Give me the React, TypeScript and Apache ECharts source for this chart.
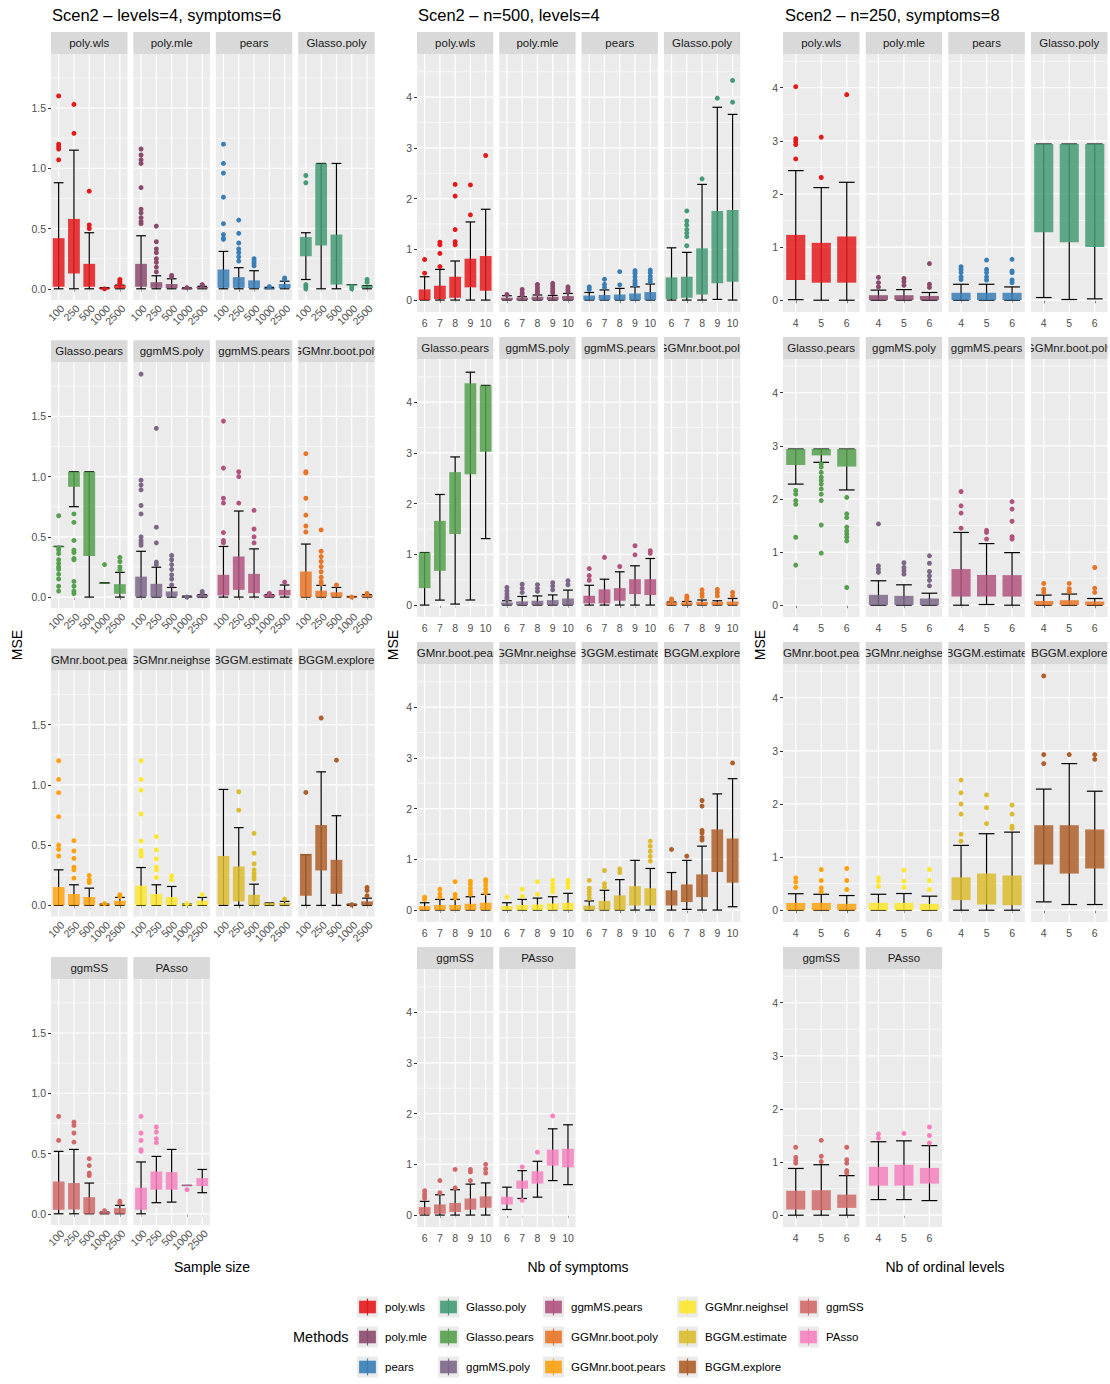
import { useEffect, useRef } from "react";
import * as echarts from "echarts";

const FONT = '"Liberation Sans", Arial, Helvetica, sans-serif';

const methods = [
  "poly.wls", "poly.mle", "pears", "Glasso.poly", "Glasso.pears", "ggmMS.poly", "ggmMS.pears",
  "GGMnr.boot.poly", "GGMnr.boot.pears", "GGMnr.neighsel", "BGGM.estimate", "BGGM.explore", "ggmSS", "PAsso",
];
const methodColors = [
  "#E41A1C", "#8B4A6D", "#3A7EB6", "#449B75", "#56A04F", "#7D6788", "#B1537F",
  "#E97527", "#FEA30F", "#FDE82F", "#DCBC2F", "#AE5F2A", "#D06A6A", "#F682BF",
];

const sizeCats = ["100", "250", "500", "1000", "2500"];
const symptomCats = ["6", "7", "8", "9", "10"];
const levelCats = ["4", "5", "6"];

const sizeYTicks = [0, 0.5, 1, 1.5];
const sizeYMinor = [0.25, 0.75, 1.25, 1.75];
const countYTicks = [0, 1, 2, 3, 4];
const countYMinor = [0.5, 1.5, 2.5, 3.5, 4.5];

// [lower whisker, Q1, Q3, upper whisker] per category, per method
const sizeBoxes = [
  [[0, 0.017, 0.42, 0.88], [0, 0.127, 0.58, 1.15], [0, 0.017, 0.207, 0.465], [0, 0, 0.008, 0.01], [0, 0.003, 0.03, 0.03]],
  [[0, 0.017, 0.207, 0.44], [0, 0.008, 0.055, 0.108], [0, 0.005, 0.04, 0.083], [0, 0, 0.005, 0.008], [0, 0.002, 0.015, 0.02]],
  [[0, 0.008, 0.16, 0.31], [0, 0.008, 0.097, 0.175], [0, 0.005, 0.07, 0.15], [0, 0, 0.008, 0.012], [0, 0.005, 0.04, 0.063]],
  [[0.077, 0.27, 0.43, 0.465], [0, 0.36, 1.04, 1.04], [0, 0.035, 0.45, 1.04], [0.035, 0.033, 0.037, 0.035], [0, 0.005, 0.027, 0.027]],
  [[0.42, 0.418, 0.422, 0.42], [0.75, 0.915, 1.04, 1.04], [0, 0.34, 1.04, 1.04], [0.117, 0.115, 0.119, 0.117], [0, 0.027, 0.107, 0.205]],
  [[0, 0.005, 0.17, 0.38], [0, 0, 0.11, 0.248], [0, 0.005, 0.047, 0.08], [0, 0, 0.005, 0.008], [0, 0, 0.02, 0.02]],
  [[0, 0.014, 0.185, 0.42], [0, 0.06, 0.337, 0.714], [0, 0.033, 0.193, 0.4], [0, 0, 0.02, 0.02], [0, 0.014, 0.06, 0.1]],
  [[0, 0, 0.212, 0.44], [0, 0, 0.053, 0.097], [0, 0, 0.04, 0.08], [0, 0, 0.005, 0.005], [0, 0, 0.015, 0.02]],
  [[0, 0, 0.152, 0.295], [0, 0, 0.094, 0.171], [0, 0, 0.069, 0.143], [0, 0, 0.01, 0.01], [0, 0, 0.039, 0.066]],
  [[0, 0, 0.163, 0.314], [0, 0, 0.094, 0.171], [0, 0, 0.069, 0.157], [0, 0, 0.01, 0.01], [0, 0, 0.039, 0.066]],
  [[0, 0.005, 0.41, 0.962], [0, 0.033, 0.323, 0.645], [0, 0, 0.088, 0.176], [0, 0, 0.02, 0.02], [0, 0, 0.02, 0.033]],
  [[0, 0.08, 0.427, 0.42], [0, 0.29, 0.667, 1.108], [0, 0.096, 0.378, 0.744], [0, 0, 0.01, 0.01], [0, 0, 0.033, 0.06]],
  [[0, 0.033, 0.268, 0.518], [0, 0.036, 0.255, 0.534], [0, 0, 0.138, 0.255], [0, 0, 0.014, 0.014], [0, 0, 0.047, 0.07]],
  [[0, 0.033, 0.216, 0.43], [0.092, 0.2, 0.351, 0.476], [0.097, 0.2, 0.346, 0.534], [0.235, 0.232, 0.24, 0.235], [0.175, 0.23, 0.296, 0.368]],
];
const sizeOutliers = [
  [[1.6, 1.2, 1.18, 1.16, 1.07], [1.53, 1.29], [0.81, 0.53, 0.5], [0.0], [0.077, 0.06, 0.045]],
  [[1.16, 1.11, 1.07, 1.04, 0.84, 0.66, 0.63, 0.59, 0.56, 0.54], [0.52, 0.39, 0.33, 0.3, 0.25, 0.22, 0.18, 0.14], [0.11, 0.1], [0.01], [0.03, 0.035]],
  [[1.2, 1.04, 0.96, 0.76, 0.54, 0.45, 0.42, 0.41], [0.57, 0.46, 0.38, 0.33, 0.3, 0.265, 0.23], [0.25, 0.23, 0.21, 0.19], [0.018], [0.09, 0.078]],
  [[0.94, 0.88, 0.035, 0.017, 0.0], [], [], [0.016, 0.0], [0.077, 0.055]],
  [[0.675, 0.41, 0.39, 0.36, 0.31, 0.28, 0.25, 0.23, 0.19, 0.15, 0.09, 0.05], [0.69, 0.62, 0.47, 0.39, 0.37, 0.32, 0.31, 0.13, 0.09, 0.05, 0.03], [], [0.27], [0.33, 0.295, 0.25, 0.225]],
  [[1.85, 0.97, 0.93, 0.89, 0.76, 0.69, 0.5, 0.47, 0.45, 0.43], [1.4, 0.58, 0.45, 0.29, 0.27], [0.345, 0.31, 0.27, 0.23, 0.185, 0.15, 0.1], [0.0], [0.047, 0.033]],
  [[1.46, 1.07, 0.82, 0.78, 0.535, 0.47, 0.45], [1.04, 1.0, 0.78], [0.72, 0.565, 0.5, 0.45], [0.03], [0.124]],
  [[1.19, 1.04, 1.03, 0.82, 0.68, 0.59, 0.54], [0.557, 0.38, 0.336, 0.295, 0.253, 0.21, 0.165, 0.13, 0.11], [0.1], [0.0], [0.03]],
  [[1.2, 1.045, 0.935, 0.736, 0.5, 0.466, 0.41], [0.537, 0.452, 0.39, 0.317, 0.295, 0.226], [0.248, 0.212, 0.19], [0.015], [0.088, 0.074]],
  [[1.2, 1.045, 0.957, 0.758, 0.535, 0.455, 0.433, 0.41], [0.57, 0.46, 0.386, 0.317, 0.295, 0.232], [0.245, 0.212], [0.015], [0.088]],
  [[], [0.943, 0.79], [0.598, 0.433, 0.345, 0.295, 0.267, 0.24, 0.218], [], [0.052]],
  [[0.937], [1.555], [1.205], [0.005], [0.149, 0.124, 0.08]],
  [[0.808, 0.609], [0.761, 0.733, 0.67, 0.595], [0.457, 0.4, 0.338, 0.318], [0.025], [0.105, 0.088]],
  [[0.808, 0.67, 0.609, 0.531, 0.518], [0.72, 0.678, 0.623, 0.59], [], [0.2], []],
];

const symptomBoxes = [
  [[0, 0, 0.21, 0.46], [0, 0.02, 0.283, 0.605], [0, 0.046, 0.46, 0.77], [0, 0.25, 0.816, 1.54], [0, 0.184, 0.868, 1.79]],
  [[0, 0, 0.046, 0.086], [0, 0, 0.046, 0.066], [0, 0, 0.066, 0.1], [0, 0, 0.066, 0.092], [0, 0, 0.079, 0.13]],
  [[0, 0, 0.09, 0.15], [0, 0, 0.1, 0.2], [0, 0, 0.11, 0.23], [0, 0, 0.13, 0.26], [0, 0, 0.158, 0.316]],
  [[0, 0.02, 0.447, 1.03], [0, 0.046, 0.46, 0.94], [0, 0.11, 1.02, 2.28], [0.013, 0.33, 1.757, 3.8], [0, 0.36, 1.776, 3.66]],
  [[0, 0.334, 1.036, 1.036], [0.098, 0.675, 1.66, 2.18], [0.02, 1.4, 2.62, 2.92], [0.1, 2.58, 4.37, 4.59], [1.31, 3.02, 4.33, 4.33]],
  [[0, 0, 0.052, 0.085], [0, 0, 0.072, 0.17], [0, 0, 0.085, 0.18], [0, 0, 0.098, 0.2], [0, 0, 0.13, 0.295]],
  [[0, 0.033, 0.184, 0.39], [0, 0.033, 0.31, 0.51], [0, 0.085, 0.334, 0.656], [0, 0.216, 0.51, 0.774], [0, 0.197, 0.51, 0.918]],
  [[0, 0, 0.052, 0.06], [0, 0, 0.05, 0.07], [0, 0, 0.065, 0.1], [0, 0, 0.065, 0.085], [0, 0, 0.072, 0.13]],
  [[0, 0, 0.079, 0.145], [0, 0, 0.1, 0.21], [0, 0, 0.1, 0.21], [0, 0, 0.125, 0.263], [0, 0, 0.145, 0.31]],
  [[0, 0, 0.079, 0.145], [0, 0, 0.1, 0.21], [0, 0, 0.11, 0.236], [0, 0, 0.13, 0.263], [0, 0, 0.145, 0.33]],
  [[0, 0, 0.09, 0.18], [0, 0, 0.18, 0.39], [0, 0, 0.29, 0.6], [0, 0.09, 0.47, 0.98], [0, 0.09, 0.43, 0.82]],
  [[0, 0.09, 0.39, 0.74], [0.013, 0.158, 0.506, 0.98], [0, 0.256, 0.703, 1.26], [0, 0.75, 1.59, 2.29], [0.066, 0.54, 1.41, 2.59]],
  [[0, 0.013, 0.157, 0.27], [0, 0.026, 0.21, 0.4], [0, 0.06, 0.24, 0.5], [0, 0.105, 0.327, 0.61], [0, 0.144, 0.37, 0.634]],
  [[0.11, 0.21, 0.36, 0.55], [0.327, 0.52, 0.68, 0.876], [0.353, 0.62, 0.863, 1.06], [0.68, 0.974, 1.29, 1.7], [0.6, 0.94, 1.307, 1.78]],
];
const symptomOutliers = [
  [[0.8, 0.53], [1.14, 1.09, 0.92, 0.66], [2.28, 2.05, 1.39, 1.15, 1.09], [2.27, 1.68], [2.85]],
  [[0.11], [0.21, 0.145, 0.1], [0.31, 0.26, 0.21, 0.165, 0.13], [0.33, 0.28, 0.23, 0.18, 0.145], [0.26, 0.21, 0.165]],
  [[0.26, 0.21], [0.41, 0.31, 0.25], [0.56, 0.3], [0.58, 0.53, 0.46, 0.39, 0.34, 0.3], [0.59, 0.54, 0.47, 0.41, 0.36]],
  [[], [1.757, 1.56, 1.48, 1.39, 1.32, 1.25, 1.07], [2.39], [3.98], [4.33, 3.9]],
  [[], [], [], [], []],
  [[0.35, 0.28, 0.22, 0.16, 0.12], [0.41, 0.33, 0.25], [0.4, 0.33, 0.27], [0.44, 0.375, 0.3], [0.48, 0.4]],
  [[0.72, 0.58, 0.49], [0.94], [0.76], [1.17, 0.99], [1.07, 1.02]],
  [[0.12, 0.085], [0.18, 0.14, 0.1], [0.3, 0.23, 0.17], [0.31, 0.25, 0.18], [0.25, 0.18]],
  [[0.256, 0.21], [0.41, 0.32, 0.256], [0.56, 0.31, 0.243], [0.57, 0.51, 0.43, 0.36, 0.31], [0.6, 0.56, 0.49, 0.41, 0.34]],
  [[0.256], [0.41, 0.276], [0.56, 0.31], [0.585, 0.5, 0.43, 0.36], [0.585, 0.52, 0.45]],
  [[0.585, 0.43, 0.36, 0.3, 0.23], [0.78, 0.52, 0.45], [0.81, 0.74], [], [1.36, 1.26, 1.16, 1.06, 0.965]],
  [[1.195], [1.065], [2.16, 2.05, 1.57, 1.52, 1.43, 1.38], [], [2.9]],
  [[0.48, 0.42, 0.37, 0.33], [0.68, 0.44], [0.9, 0.536], [0.9, 0.85, 0.68], [1.0, 0.91, 0.83]],
  [[], [0.95, 0.29], [1.24], [1.955], []],
];

const levelBoxes = [
  [[0.01, 0.38, 1.23, 2.44], [0, 0.33, 1.08, 2.12], [0, 0.33, 1.2, 2.22]],
  [[0, 0, 0.094, 0.19], [0, 0, 0.094, 0.2], [0, 0, 0.08, 0.145]],
  [[0, 0, 0.14, 0.3], [0, 0, 0.14, 0.3], [0, 0, 0.14, 0.25]],
  [[0.05, 1.28, 2.94, 2.94], [0.013, 1.09, 2.94, 2.94], [0.025, 1.0, 2.94, 2.94]],
  [[2.28, 2.64, 2.94, 2.94], [2.69, 2.82, 2.94, 2.94], [2.17, 2.61, 2.94, 2.94]],
  [[0, 0, 0.195, 0.46], [0, 0, 0.176, 0.384], [0, 0, 0.126, 0.226]],
  [[0, 0.163, 0.68, 1.37], [0.013, 0.163, 0.57, 1.16], [0, 0.163, 0.566, 0.99]],
  [[0, 0, 0.08, 0.19], [0, 0, 0.094, 0.21], [0, 0, 0.07, 0.126]],
  [[0, 0, 0.138, 0.31], [0, 0, 0.138, 0.3], [0, 0, 0.12, 0.276]],
  [[0, 0, 0.138, 0.3], [0, 0, 0.138, 0.314], [0, 0, 0.12, 0.264]],
  [[0, 0.19, 0.62, 1.22], [0, 0.107, 0.69, 1.44], [0, 0.094, 0.653, 1.47]],
  [[0.157, 0.86, 1.6, 2.28], [0.107, 0.69, 1.6, 2.76], [0.107, 0.785, 1.52, 2.24]],
  [[0, 0.106, 0.46, 0.88], [0, 0.094, 0.47, 0.95], [0, 0.138, 0.388, 0.745]],
  [[0.294, 0.557, 0.91, 1.383], [0.294, 0.557, 0.95, 1.4], [0.275, 0.595, 0.89, 1.31]],
];
const levelOutliers = [
  [[4.02, 3.04, 2.99, 2.93, 2.66], [3.07, 2.31], [3.87]],
  [[0.43, 0.33, 0.25], [0.41, 0.35, 0.28], [0.69, 0.3, 0.24]],
  [[0.63, 0.58, 0.52, 0.44, 0.39], [0.756, 0.58, 0.52, 0.44, 0.38], [0.77, 0.55, 0.52, 0.38, 0.33]],
  [[], [], []],
  [[2.16, 2.09, 1.97, 1.9, 1.28, 0.755], [2.66, 2.6, 2.5, 2.41, 2.35, 2.28, 2.19, 2.09, 1.97, 1.51, 0.98], [2.03, 1.72, 1.65, 1.47, 1.4, 1.34, 1.28, 1.21, 0.333]],
  [[1.53, 0.74, 0.68, 0.62], [0.8, 0.71, 0.65, 0.585], [0.93, 0.79, 0.635, 0.553, 0.47, 0.365]],
  [[2.14, 1.87, 1.735, 1.45], [1.41, 1.37, 1.245], [1.95, 1.81, 1.58, 1.29, 1.245]],
  [[0.41, 0.3, 0.24], [0.41, 0.31, 0.25], [0.71, 0.32, 0.24]],
  [[0.61, 0.534, 0.43], [0.766, 0.56, 0.42, 0.35], [0.785, 0.56, 0.39]],
  [[0.61, 0.546, 0.45], [0.753, 0.546, 0.43], [0.766, 0.56, 0.39]],
  [[2.45, 2.21, 2.0, 1.81, 1.43, 1.3], [2.17, 1.93, 1.63], [1.98, 1.81, 1.58, 1.54]],
  [[4.41, 2.93, 2.76], [2.93], [2.93, 2.84]],
  [[1.28, 1.09, 1.03, 0.98], [1.41, 1.11, 1.01], [1.28, 1.045, 0.98, 0.84, 0.795]],
  [[1.53, 1.45], [1.54], [1.66, 1.5, 1.36]],
];

// layout (pixel geometry of each of the three arranged plots)
const panels = [
  {
    title: "Scen2 \u2013 levels=4, symptoms=6", xTitle: "Sample size",
    cats: sizeCats, boxes: sizeBoxes, outs: sizeOutliers,
    yMin: -0.093, yMax: 1.948, yTicks: sizeYTicks, yMinor: sizeYMinor, decimals: 1,
    lefts: [51, 133.4, 215.8, 298.2], width: 76.5, tops: [54, 362.3, 670.6, 979], height: 246,
    rotate: 45, titleX: 52, xTitleX: 212, mseX: 17,
  },
  {
    title: "Scen2 \u2013 n=500, levels=4", xTitle: "Nb of symptoms",
    cats: symptomCats, boxes: symptomBoxes, outs: symptomOutliers,
    yMin: -0.235, yMax: 4.85, yTicks: countYTicks, yMinor: countYMinor, decimals: 0,
    lefts: [417, 499.3, 581.6, 663.9], width: 76.3, tops: [54, 359, 664, 969], height: 258,
    rotate: 0, titleX: 418, xTitleX: 578, mseX: 393,
  },
  {
    title: "Scen2 \u2013 n=250, symptoms=8", xTitle: "Nb of ordinal levels",
    cats: levelCats, boxes: levelBoxes, outs: levelOutliers,
    yMin: -0.222, yMax: 4.635, yTicks: countYTicks, yMinor: countYMinor, decimals: 0,
    lefts: [783, 865.7, 948.3, 1031], width: 76.5, tops: [54, 359, 664, 969], height: 258,
    rotate: 0, titleX: 785, xTitleX: 945, mseX: 760,
  },
];

const STRIP_H = 22;
const legendCols = [357, 438, 543, 677, 798];
const legendRows = [1307, 1337, 1367];

function buildOption() {
  const grid: any[] = [];
  const xAxis: any[] = [];
  const yAxis: any[] = [];
  const series: any[] = [];
  const graphic: any[] = [];

  panels.forEach((p) => {
    const n = p.cats.length;
    graphic.push({
      type: "text", left: p.titleX, top: 6,
      style: { text: p.title, fontSize: 16.5, fill: "#000", fontFamily: FONT },
    });
    graphic.push({
      type: "text", x: p.xTitleX, y: 1267,
      style: { text: p.xTitle, fontSize: 14, fill: "#000", fontFamily: FONT, align: "center", verticalAlign: "middle" },
    });
    graphic.push({
      type: "text", x: p.mseX, y: 645, rotation: Math.PI / 2,
      style: { text: "MSE", fontSize: 14, fill: "#000", fontFamily: FONT, align: "center", verticalAlign: "middle" },
    });

    methods.forEach((m, mi) => {
      const row = Math.floor(mi / 4);
      const col = mi % 4;
      const left = p.lefts[col];
      const top = p.tops[row];
      const g = grid.length;
      const color = methodColors[mi];
      grid.push({
        left, top, width: p.width, height: p.height, show: true,
        backgroundColor: "#EBEBEB", borderWidth: 0, containLabel: false,
      });
      xAxis.push({
        type: "category", gridIndex: g, data: p.cats, boundaryGap: true,
        axisLine: { show: false },
        axisTick: { show: true, alignWithLabel: true, length: 3, lineStyle: { color: "#333333", width: 1 } },
        axisLabel: p.rotate
          ? {
              interval: 0, rotate: p.rotate, margin: 3, color: "#4D4D4D", fontSize: 10.5, fontFamily: FONT,
              align: "right", verticalAlign: "top",
            }
          : { interval: 0, margin: 5, color: "#4D4D4D", fontSize: 10.5, fontFamily: FONT },
        splitLine: { show: false },
      });
      yAxis.push({
        type: "value", gridIndex: g, min: p.yMin, max: p.yMax,
        axisLine: { show: false },
        axisTick: { show: col === 0, length: 3, lineStyle: { color: "#333333", width: 1 }, customValues: p.yTicks },
        axisLabel: {
          show: col === 0, customValues: p.yTicks, margin: 5, color: "#4D4D4D", fontSize: 10.5, fontFamily: FONT,
          formatter: (v: number) => v.toFixed(p.decimals),
        },
        splitLine: { show: false },
        minorSplitLine: { show: false },
      });

      // facet strip (label clipped to the strip, like ggplot)
      series.push({
        type: "custom", xAxisIndex: g, yAxisIndex: g, silent: true, z: 1,
        data: [[0, 0]],
        renderItem: (params: any) => {
          const cs = params.coordSys;
          const sy = cs.y - STRIP_H;
          return {
            type: "group",
            children: [
              { type: "rect", shape: { x: cs.x, y: sy, width: cs.width, height: STRIP_H }, style: { fill: "#D9D9D9" } },
              {
                type: "text",
                style: {
                  x: cs.x + cs.width / 2, y: sy + STRIP_H / 2, text: m, fontSize: 11.5, fill: "#1A1A1A",
                  fontFamily: FONT, align: "center", verticalAlign: "middle",
                },
                clipPath: { type: "rect", shape: { x: cs.x, y: sy, width: cs.width, height: STRIP_H } },
              },
            ],
          };
        },
      });

      // panel grid lines, placed through the axes' scales
      const gridData: number[][] = [];
      p.yTicks.forEach((v) => gridData.push([0, v, 1]));
      p.yMinor.forEach((v) => gridData.push([0, v, 0]));
      p.cats.forEach((_c, i) => gridData.push([i, 0, 2]));
      series.push({
        type: "custom", xAxisIndex: g, yAxisIndex: g, silent: true, z: 1,
        data: gridData,
        renderItem: (params: any, api: any) => {
          const cs = params.coordSys;
          const kind = api.value(2);
          if (kind === 2) {
            const x = api.coord([api.value(0), 0])[0];
            return { type: "line", shape: { x1: x, y1: cs.y, x2: x, y2: cs.y + cs.height }, style: { stroke: "#FFFFFF", lineWidth: 1.2 } };
          }
          const y = api.coord([0, api.value(1)])[1];
          return {
            type: "line", shape: { x1: cs.x, y1: y, x2: cs.x + cs.width, y2: y },
            style: { stroke: "#FFFFFF", lineWidth: kind === 1 ? 1.2 : 0.6 },
          };
        },
      });

      // boxes + error bars
      series.push({
        type: "custom", xAxisIndex: g, yAxisIndex: g, silent: true, z: 2,
        data: p.boxes[mi].map((b, i) => [i, b[0], b[1], b[2], b[3]]),
        encode: { x: 0, y: [1, 2, 3, 4] },
        renderItem: (_params: any, api: any) => {
          const i = api.value(0);
          const lo = api.value(1), q1 = api.value(2), q3 = api.value(3), hi = api.value(4);
          const cx = api.coord([i, 0])[0];
          const band = api.size([1, 0])[0];
          const unit = (band * n) / (n + 0.2);
          const bw = unit * 0.8;
          const cw = unit * 0.66;
          const yLo = api.coord([i, lo])[1];
          const yHi = api.coord([i, hi])[1];
          const yQ1 = api.coord([i, q1])[1];
          const yQ3 = api.coord([i, q3])[1];
          const ls = { stroke: "#000000", lineWidth: 1.2 };
          const h = Math.max(Math.abs(yQ1 - yQ3), 1);
          return {
            type: "group",
            children: [
              { type: "line", shape: { x1: cx, y1: yLo, x2: cx, y2: yHi }, style: ls },
              { type: "line", shape: { x1: cx - cw / 2, y1: yLo, x2: cx + cw / 2, y2: yLo }, style: ls },
              { type: "line", shape: { x1: cx - cw / 2, y1: yHi, x2: cx + cw / 2, y2: yHi }, style: ls },
              {
                type: "rect",
                shape: { x: cx - bw / 2, y: Math.min(yQ1, yQ3), width: bw, height: h },
                style: { fill: color, opacity: 0.85 },
              },
            ],
          };
        },
      });

      // outliers
      const pts: number[][] = [];
      p.outs[mi].forEach((arr, i) => arr.forEach((v) => pts.push([i, v])));
      series.push({
        type: "scatter", xAxisIndex: g, yAxisIndex: g, silent: true, z: 3,
        symbol: "circle", symbolSize: 5, data: pts,
        itemStyle: { color, opacity: 1 },
      });
    });
  });

  // legend
  graphic.push({
    type: "text", x: 293, y: 1337,
    style: { text: "Methods", fontSize: 14.5, fill: "#000", fontFamily: FONT, align: "left", verticalAlign: "middle" },
  });
  methods.forEach((m, mi) => {
    const c = Math.floor(mi / 3);
    const r = mi % 3;
    const kx = legendCols[c];
    const cy = legendRows[r];
    const k = 21;
    const color = methodColors[mi];
    graphic.push({ type: "rect", shape: { x: kx, y: cy - k / 2, width: k, height: k }, style: { fill: "#EBEBEB" } });
    graphic.push({ type: "line", shape: { x1: kx + k / 2, y1: cy - k * 0.4, x2: kx + k / 2, y2: cy + k * 0.4 }, style: { stroke: color, lineWidth: 1.2 } });
    graphic.push({
      type: "rect", shape: { x: kx + k * 0.1, y: cy - k * 0.3, width: k * 0.8, height: k * 0.6 },
      style: { fill: color, opacity: 0.9 },
    });
    graphic.push({
      type: "text", x: kx + 28, y: cy,
      style: { text: m, fontSize: 11.5, fill: "#000", fontFamily: FONT, align: "left", verticalAlign: "middle" },
    });
  });

  return {
    animation: false,
    backgroundColor: "#FFFFFF",
    textStyle: { fontFamily: FONT },
    grid, xAxis, yAxis, series, graphic,
  };
}

export default function App() {
  const ref = useRef<HTMLDivElement>(null);
  useEffect(() => {
    if (!ref.current) return;
    const chart = echarts.init(ref.current, undefined, { renderer: "svg" });
    chart.setOption(buildOption() as any);
    return () => chart.dispose();
  }, []);
  return (
    <div
      ref={ref}
      style={{ position: "fixed", left: 0, top: 0, width: 1110, height: 1384, background: "#fff" }}
    />
  );
}
